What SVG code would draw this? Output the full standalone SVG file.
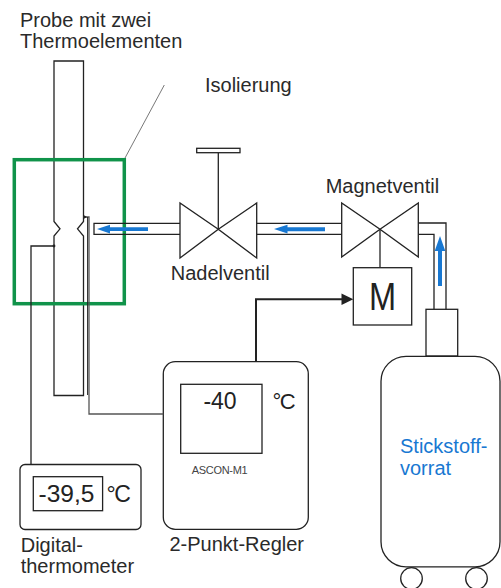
<svg xmlns="http://www.w3.org/2000/svg" width="501" height="588" viewBox="0 0 501 588">
  <style>
    .ln { fill: none; stroke: #222; stroke-width: 1.3; }
    .box { fill: #fff; stroke: #222; stroke-width: 1.3; }
    .lbl { font-family: "Liberation Sans", Arial, sans-serif; font-size: 20px; fill: #2a2a2a; }
    .flow { fill: #1878d2; }
  </style>
  <rect width="501" height="588" fill="#fff"/>

  <!-- sample with two thermocouples -->
  <g id="probe">
    <path class="box" d="M54,61 H83.5 V221.5 L77.5,228.8 L83.5,236 V395.5 H54 V236 L60,228.8 L54,221.5 Z"/>
    <text class="lbl" x="20" y="27.3">Probe mit zwei</text>
    <text class="lbl" x="20" y="48.3">Thermoelementen</text>
  </g>

  <!-- insulation -->
  <g id="isolierung">
    <rect x="14.3" y="159.7" width="110" height="144" fill="none" stroke="#10934a" stroke-width="3.5"/>
    <line x1="125" y1="158" x2="164.3" y2="85" stroke="#555" stroke-width="0.8"/>
    <text class="lbl" x="205" y="92">Isolierung</text>
  </g>

  <!-- needle valve -->
  <g id="nadelventil">
    <path class="box" d="M180,203 V258 L218.3,229.3 Z M256.7,203 V258 L218.3,229.3 Z"/>
    <line class="ln" x1="218.3" y1="229.3" x2="218.3" y2="152.7"/>
    <rect class="box" x="196.7" y="148.3" width="43.3" height="4.4"/>
    <text class="lbl" x="170.7" y="280">Nadelventil</text>
  </g>

  <!-- solenoid valve with actuator -->
  <g id="magnetventil">
    <path class="box" d="M341.7,203 V257 L380,229.3 Z M418.3,203 V257 L380,229.3 Z"/>
    <line class="ln" x1="380" y1="229.3" x2="380" y2="267.7"/>
    <rect class="box" x="353.3" y="267.7" width="58.4" height="57.3"/>
    <text transform="translate(382.5,310) scale(0.88,1.06)" text-anchor="middle" font-family="'Liberation Sans', Arial, sans-serif" font-size="37" fill="#222">M</text>
    <text class="lbl" x="325.7" y="193.3">Magnetventil</text>
  </g>

  <!-- two-point controller -->
  <g id="regler">
    <rect class="box" x="163.3" y="361.7" width="145" height="167.6" rx="12"/>
    <rect class="box" x="180.7" y="384.3" width="81.3" height="69"/>
    <text x="220" y="409.3" text-anchor="middle" font-family="'Liberation Sans', Arial, sans-serif" font-size="23" fill="#222">-40</text>
    <text x="272.5" y="409.3" font-family="'Liberation Sans', Arial, sans-serif" font-size="22" fill="#222" letter-spacing="-1.5">°C</text>
    <text x="191.7" y="474.3" font-family="'Liberation Sans', Arial, sans-serif" font-size="11" fill="#444" letter-spacing="-0.3">ASCON-M1</text>
    <text class="lbl" x="169.5" y="550.7">2-Punkt-Regler</text>
  </g>

  <!-- digital thermometer -->
  <g id="thermometer">
    <rect class="box" x="20" y="464.5" width="121" height="65" rx="5"/>
    <rect class="box" x="33.3" y="476.7" width="69.3" height="34"/>
    <text x="38.5" y="501.7" font-family="'Liberation Sans', Arial, sans-serif" font-size="24.5" fill="#222">-39,5</text>
    <text x="106.5" y="501.7" font-family="'Liberation Sans', Arial, sans-serif" font-size="23" fill="#222" letter-spacing="-1.5">°C</text>
    <text class="lbl" x="20.7" y="551.7">Digital-</text>
    <text class="lbl" x="20.7" y="573.3">thermometer</text>
  </g>

  <!-- nitrogen supply dewar -->
  <g id="stickstoff">
    <rect class="box" x="426" y="309.3" width="31.7" height="46.7"/>
    <rect class="box" x="381" y="356.3" width="119" height="210.5" rx="25"/>
    <circle class="box" cx="411.5" cy="578.5" r="10.8"/>
    <circle class="box" cx="476.5" cy="578.5" r="10.8"/>
    <text x="400" y="453" font-family="'Liberation Sans', Arial, sans-serif" font-size="20" fill="#1878d2">Stickstoff-</text>
    <text x="400" y="475" font-family="'Liberation Sans', Arial, sans-serif" font-size="20" fill="#1878d2">vorrat</text>
  </g>

  <!-- pipes, wires and flow arrows -->
  <g id="connectors">
    <!-- pipe to the sample -->
    <path class="ln" d="M180,223.3 H94 V234.3 H180"/>
    <!-- pipe between the valves -->
    <path class="ln" d="M256.7,223.3 H341.7 M256.7,234.3 H341.7"/>
    <!-- riser from the dewar -->
    <path class="ln" d="M418.3,223 H446 V309.3 M418.3,234.3 H434 V309.3"/>

    <!-- thermocouple to the digital thermometer -->
    <path class="ln" d="M54,246 H31 V464.5"/>
    <circle cx="54" cy="246" r="1.4" fill="#222"/>
    <!-- thermocouple to the controller -->
    <path d="M83.5,217 H89 V414 H163.3" fill="none" stroke="#555" stroke-width="1.3"/>
    <line x1="87.6" y1="217" x2="87.6" y2="395" stroke="#222" stroke-width="1"/>
    <path d="M83.5,215 L87,217 L83.5,219 Z" fill="#222"/>

    <!-- control signal to the solenoid -->
    <path d="M256,361.7 V299.3 H342" fill="none" stroke="#222" stroke-width="2"/>
    <path d="M353.3,299.3 L341.5,293.5 V305.1 Z" fill="#222"/>

    <!-- nitrogen flow -->
    <path class="flow" d="M97,229 L110,224.8 V227.3 H148 V231.1 H110 V233.4 Z"/>
    <path class="flow" d="M274,229 L287.5,224.8 V227.2 H325 V231.2 H287.5 V233.4 Z"/>
    <path class="flow" d="M440,236 L445.3,251 H442 V286 H438 V251 H434.7 Z"/>
  </g>
</svg>
